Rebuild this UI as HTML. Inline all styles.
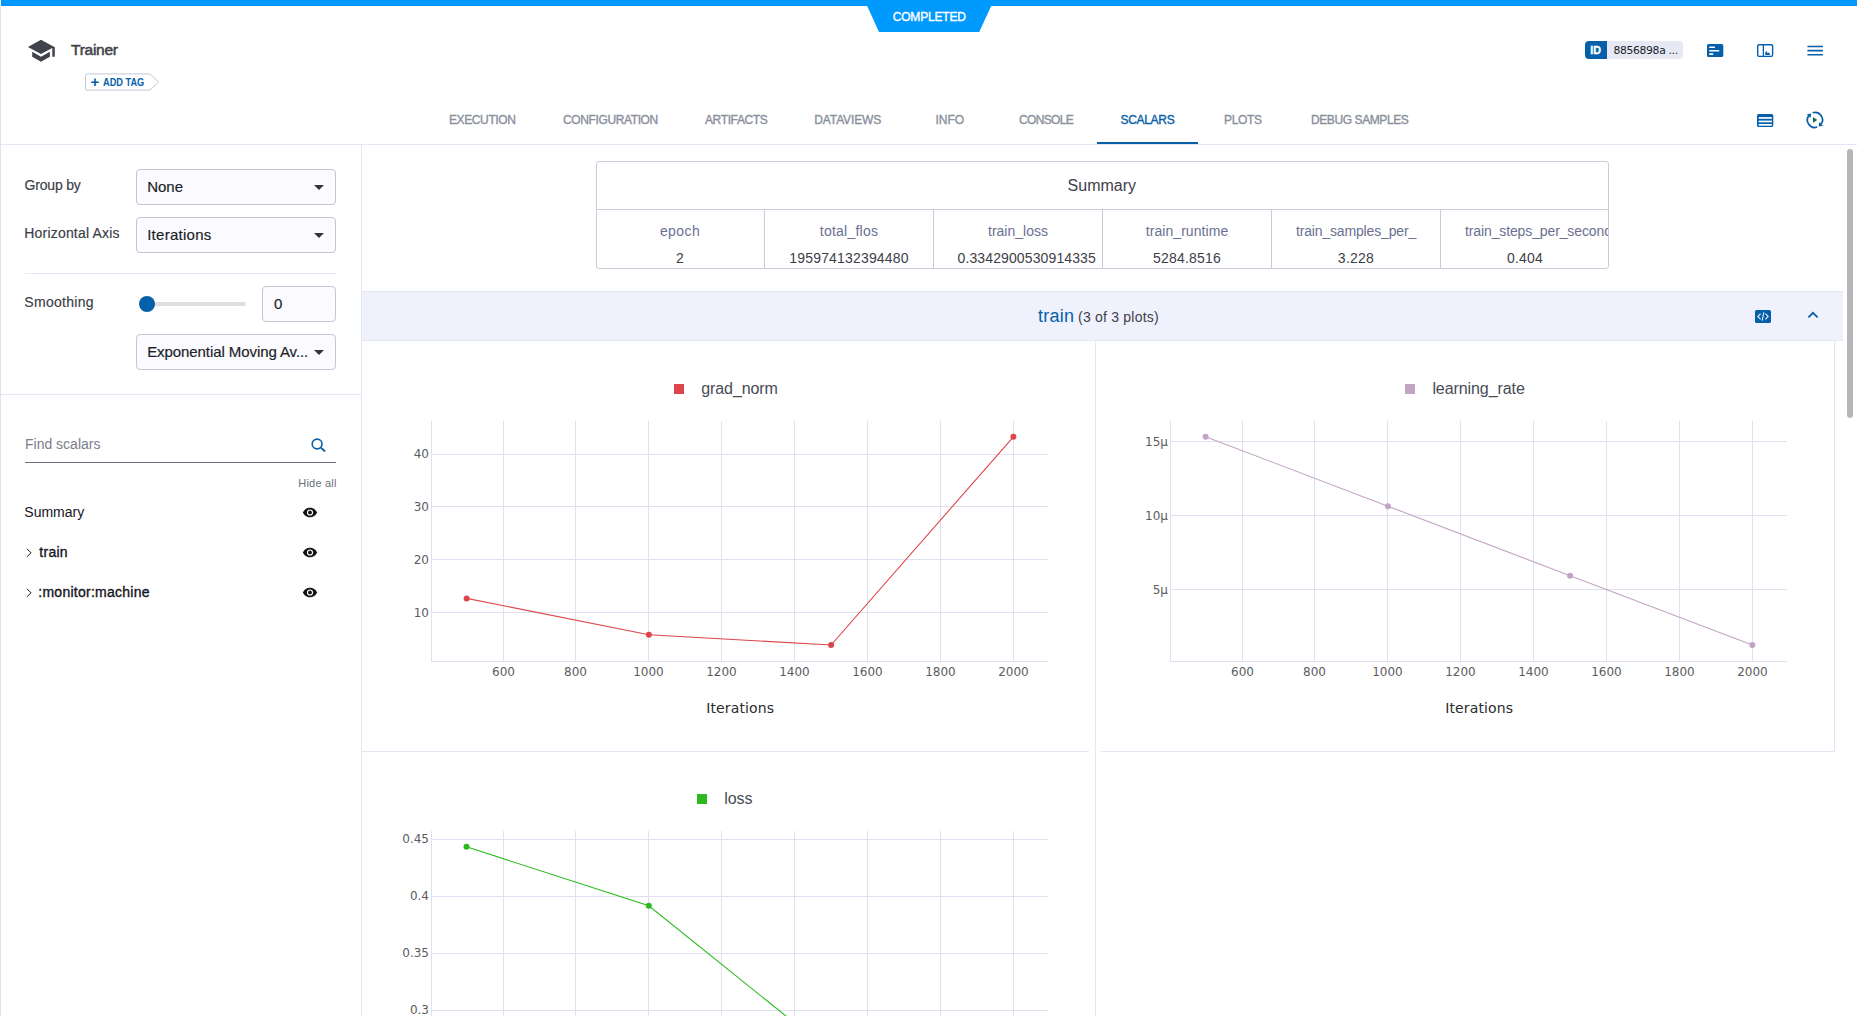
<!DOCTYPE html>
<html lang="en">
<head>
<meta charset="utf-8">
<title>Trainer - Scalars</title>
<style>
html,body{margin:0;padding:0;background:#fff;}
body{width:1857px;height:1016px;overflow:hidden;position:relative;font-family:"Liberation Sans",Arial,sans-serif;color:#1a1e2c;}
.a{position:absolute;}
.t{position:absolute;white-space:nowrap;line-height:20px;}
.m{-webkit-text-stroke:0.35px currentColor;}
.m2{-webkit-text-stroke:0.55px currentColor;}
.m1{-webkit-text-stroke:0.18px currentColor;}
.dj{font-family:"DejaVu Sans","Liberation Sans",sans-serif;}
.hl{position:absolute;height:1px;background:#e4e6f3;}
.vl{position:absolute;width:1px;background:#e4e6f3;}
.sel{position:absolute;box-sizing:border-box;border:1px solid #c3c7d3;border-radius:4px;background:#fafaff;}
.seltx{font-size:15px;color:#1c1e26;-webkit-text-stroke:0.18px currentColor;}
.caret{position:absolute;width:0;height:0;border-left:5px solid transparent;border-right:5px solid transparent;border-top:5px solid #34363f;}
.tab{font-size:12px;color:#8a8f9c;}
.sl{font-size:14px;color:#3e4049;-webkit-text-stroke:0.18px currentColor;}
.lbl{font-size:14px;color:#6b7091;}
.val{font-size:14px;color:#3e4049;}
.it{font-size:14px;color:#14161e;}
</style>
</head>
<body>

<!-- top status bar -->
<div class="a" style="left:1px;top:0;width:1856px;height:6px;background:#009aff;"></div>
<div class="a" style="left:1px;top:5px;width:1856px;height:1px;background:#0093fb;"></div>
<svg class="a" style="left:860px;top:0;" width="140" height="34" viewBox="0 0 140 34"><polygon points="6.75,5 131.65,5 119.2,32 19,32" fill="#009aff"/></svg>
<div class="t m" id="completed" style="left:892.7px;top:7px;font-size:12px;color:#fff;letter-spacing:-0.18px;">COMPLETED</div>

<!-- left window edge -->
<div class="vl" style="left:0;top:6px;height:1010px;background:#e0e2ee;"></div>

<!-- header -->
<svg class="a" style="left:27px;top:38px;" width="28" height="24" viewBox="0 0 28 24"><path d="M14 1.8 L0.9 9 L14 16 L25.3 10 V18.8 H27.8 V9.2 Z M5.2 13.8 V18.8 L14 23.7 L22.9 18.8 V13.8 L14 18.8 Z" fill="#41434b"/></svg>
<div class="t m2" id="title" style="left:71px;top:40px;font-size:15.5px;letter-spacing:-0.25px;color:#41434b;">Trainer</div>

<!-- add tag -->
<svg class="a" style="left:84px;top:72px;" width="78" height="20" viewBox="0 0 78 20"><path d="M3 1.9 H66 L74.6 10 L66 18.1 H3 Q1.5 18.1 1.5 16.6 V3.4 Q1.5 1.9 3 1.9 Z" fill="#fff" stroke="#c4c7d6" stroke-width="1"/></svg>
<div class="t" id="addplus" style="left:90.4px;top:71.5px;font-size:15px;font-weight:bold;color:#0660a9;">+</div>
<div class="t" id="addtag" style="left:102.6px;top:72px;font-size:10.9px;font-weight:bold;color:#0660a9;transform:scaleX(0.846);transform-origin:0 0;">ADD TAG</div>

<!-- ID badge -->
<div class="a" style="left:1585px;top:41px;width:98px;height:18px;border-radius:4px;background:#e6e8f4;overflow:hidden;"><div class="a" style="left:0;top:0;width:22px;height:18px;background:#0660a9;"></div></div>
<div class="t m" id="idtxt" style="left:1590.2px;top:40.4px;font-size:10.7px;font-weight:bold;color:#fff;">ID</div>
<div class="t dj" id="idval" style="left:1613.5px;top:41px;font-size:10.8px;letter-spacing:-0.35px;color:#1a1e2c;">8856898a ...</div>

<!-- header icons -->
<svg class="a" style="left:1700px;top:36px;" width="130" height="100" viewBox="1700 36 130 100">
<g fill="#0660a9">
<rect x="1707" y="44" width="16.3" height="13.1" rx="1.6"/>
<rect x="1807.4" y="45.7" width="15.6" height="1.6" rx="0.5"/><rect x="1807.4" y="49.8" width="15.6" height="1.6" rx="0.5"/><rect x="1807.4" y="53.9" width="15.6" height="1.6" rx="0.5"/>
<rect x="1757" y="114" width="16.3" height="13.1" rx="1.6"/>
</g>
<g fill="#fff">
<rect x="1709.1" y="46.4" width="5.9" height="1.6" rx="0.6"/><rect x="1709.1" y="49.9" width="10.2" height="1.6" rx="0.6"/><rect x="1709.1" y="53.3" width="4.2" height="1.6" rx="0.6"/>
<rect x="1758.7" y="117.1" width="13.2" height="1.7"/><rect x="1758.7" y="120.6" width="13.2" height="1.7"/><rect x="1758.7" y="124" width="13.2" height="1.7"/>
</g>
<rect x="1757.7" y="44.7" width="14.9" height="11.7" rx="1.3" fill="#fff" stroke="#0660a9" stroke-width="1.4"/>
<rect x="1762.7" y="45" width="1.3" height="11" fill="#0660a9"/>
<path d="M1765.2 55 V52.6 L1766.4 50.9 L1767.6 53.2 L1768.8 52.3 L1770.4 55 Z" fill="#0660a9"/>
<g fill="none" stroke="#0660a9" stroke-width="1.7">
<path d="M1809 115.4 A7.4 7.4 0 0 0 1817.2 127"/>
<path d="M1812.6 112.8 A7.4 7.4 0 0 1 1821 124.2"/>
</g>
<path d="M1806.9 114.2 L1811.2 113.4 L1810.6 118 Z" fill="#0660a9"/>
<path d="M1823 125.8 L1818.7 126.6 L1819.3 122 Z" fill="#0660a9"/>
<path d="M1813 117 L1817.3 119.9 L1813 122.8 Z" fill="#0a6b50"/>
</svg>

<!-- tabs -->
<div class="t m tab" id="tab1" style="left:449px;top:110px;letter-spacing:-0.39px;">EXECUTION</div>
<div class="t m tab" id="tab2" style="left:563px;top:110px;letter-spacing:-0.38px;">CONFIGURATION</div>
<div class="t m tab" id="tab3" style="left:705px;top:110px;letter-spacing:-0.38px;">ARTIFACTS</div>
<div class="t m tab" id="tab4" style="left:814.3px;top:110px;letter-spacing:-0.13px;">DATAVIEWS</div>
<div class="t m tab" id="tab5" style="left:935.5px;top:110px;">INFO</div>
<div class="t m tab" id="tab6" style="left:1019px;top:110px;letter-spacing:-0.67px;">CONSOLE</div>
<div class="t m tab" id="tab7" style="left:1120.6px;top:110px;color:#0660a9;letter-spacing:-0.33px;">SCALARS</div>
<div class="t m tab" id="tab8" style="left:1224px;top:110px;letter-spacing:-0.32px;">PLOTS</div>
<div class="t m tab" id="tab9" style="left:1311px;top:110px;letter-spacing:-0.41px;">DEBUG SAMPLES</div>
<div class="a" style="left:1097px;top:142px;width:101px;height:2px;background:#0660a9;"></div>
<div class="hl" style="left:1px;top:144px;width:1856px;"></div>

<!-- sidebar -->
<div class="vl" style="left:361px;top:145px;height:871px;"></div>
<div class="t sl" id="groupby" style="left:24.6px;top:175px;letter-spacing:-0.21px;">Group by</div>
<div class="sel" style="left:136px;top:169px;width:200px;height:36px;"></div>
<div class="t seltx" id="none" style="left:147.2px;top:177px;">None</div>
<div class="caret" style="left:314px;top:185px;"></div>
<div class="t sl" id="haxis" style="left:24.3px;top:223px;letter-spacing:0.19px;">Horizontal Axis</div>
<div class="sel" style="left:136px;top:217px;width:200px;height:36px;"></div>
<div class="t seltx" id="iters" style="left:147.2px;top:225px;letter-spacing:0.27px;">Iterations</div>
<div class="caret" style="left:314px;top:233px;"></div>
<div class="hl" style="left:25px;top:273px;width:311px;"></div>
<div class="t sl" id="smooth" style="left:24.3px;top:292px;letter-spacing:0.3px;">Smoothing</div>
<div class="a" style="left:146px;top:302px;width:100px;height:4px;border-radius:2px;background:#dedfe2;"></div>
<div class="a" style="left:139px;top:296px;width:16px;height:16px;border-radius:8px;background:#0660a9;"></div>
<div class="sel" style="left:262px;top:286px;width:74px;height:36px;"></div>
<div class="t seltx" id="zero" style="left:274px;top:294px;">0</div>
<div class="sel" style="left:136px;top:334px;width:200px;height:36px;"></div>
<div class="t seltx" id="ema" style="left:147.2px;top:342px;letter-spacing:-0.08px;">Exponential Moving Av...</div>
<div class="caret" style="left:314px;top:350px;"></div>
<div class="hl" style="left:1px;top:394px;width:360px;"></div>

<div class="t" id="find" style="left:25px;top:434px;font-size:14px;color:#7a7e8a;">Find scalars</div>
<svg class="a" style="left:310px;top:436px;" width="16" height="16" viewBox="0 0 16 16"><circle cx="7.1" cy="8" r="4.9" fill="none" stroke="#0660a9" stroke-width="1.6"/><path d="M10.8 11.6 L14.6 15" stroke="#0660a9" stroke-width="1.8" stroke-linecap="round"/></svg>
<div class="hl" style="left:25px;top:462px;width:311px;background:#6c707c;"></div>
<div class="t" id="hideall" style="left:298.3px;top:473px;font-size:11px;color:#6c707c;letter-spacing:0.21px;">Hide all</div>
<div class="t it" id="summ" style="left:24.3px;top:502px;">Summary</div>
<svg class="a" style="left:25px;top:547px;" width="8" height="12" viewBox="0 0 8 12"><path d="M2 1.8 L6 5.8 L2 9.8" fill="none" stroke="#14161e" stroke-width="1"/></svg>
<div class="t it m" id="train" style="left:39.3px;top:542px;letter-spacing:0.27px;">train</div>
<svg class="a" style="left:25px;top:587px;" width="8" height="12" viewBox="0 0 8 12"><path d="M2 1.8 L6 5.8 L2 9.8" fill="none" stroke="#14161e" stroke-width="1"/></svg>
<div class="t it m" id="monitor" style="left:38.3px;top:582px;letter-spacing:0.26px;">:monitor:machine</div>
<svg class="a" style="left:302px;top:507px;" width="16" height="11" viewBox="0 0 16 11"><path d="M0.8 5.5 C3 1.6 5.6 0.8 8 0.8 C10.4 0.8 13 1.6 15.2 5.5 C13 9.4 10.4 10.2 8 10.2 C5.6 10.2 3 9.4 0.8 5.5 Z" fill="#111"/><circle cx="8" cy="5.5" r="3.1" fill="#fff"/><circle cx="8" cy="5.5" r="1.9" fill="#111"/></svg>
<svg class="a" style="left:302px;top:547px;" width="16" height="11" viewBox="0 0 16 11"><path d="M0.8 5.5 C3 1.6 5.6 0.8 8 0.8 C10.4 0.8 13 1.6 15.2 5.5 C13 9.4 10.4 10.2 8 10.2 C5.6 10.2 3 9.4 0.8 5.5 Z" fill="#111"/><circle cx="8" cy="5.5" r="3.1" fill="#fff"/><circle cx="8" cy="5.5" r="1.9" fill="#111"/></svg>
<svg class="a" style="left:302px;top:587px;" width="16" height="11" viewBox="0 0 16 11"><path d="M0.8 5.5 C3 1.6 5.6 0.8 8 0.8 C10.4 0.8 13 1.6 15.2 5.5 C13 9.4 10.4 10.2 8 10.2 C5.6 10.2 3 9.4 0.8 5.5 Z" fill="#111"/><circle cx="8" cy="5.5" r="3.1" fill="#fff"/><circle cx="8" cy="5.5" r="1.9" fill="#111"/></svg>

<!-- summary table -->
<div class="a" style="left:596px;top:161px;width:1013px;height:108px;box-sizing:border-box;border:1px solid #c9ccd9;border-radius:3px;"></div>
<div class="hl" style="left:597px;top:209px;width:1011px;background:#c9ccd9;"></div>
<div class="t" id="sumtitle" style="left:1067.6px;top:176px;font-size:16px;color:#3e4049;">Summary</div>
<div class="a" id="sumcells" style="left:597px;top:210px;width:1011px;height:58px;overflow:hidden;">
<div class="t lbl" style="left:-1px;width:168px;text-align:center;top:11px;letter-spacing:0.42px;"><span id="l0">epoch</span></div>
<div class="t val" style="left:-1px;width:168px;text-align:center;top:38px;letter-spacing:0px;"><span id="v0">2</span></div>
<div class="vl" style="left:167px;top:0;height:58px;background:#c9ccd9;"></div>
<div class="t lbl" style="left:168px;width:168px;text-align:center;top:11px;letter-spacing:0.23px;"><span id="l1">total_flos</span></div>
<div class="t val" style="left:168px;width:168px;text-align:center;top:38px;letter-spacing:0.17px;"><span id="v1">195974132394480</span></div>
<div class="vl" style="left:336px;top:0;height:58px;background:#c9ccd9;"></div>
<div class="t lbl" style="left:337px;width:168px;text-align:center;top:11px;letter-spacing:0px;"><span id="l2">train_loss</span></div>
<div class="t val" style="left:360.5px;top:38px;letter-spacing:0.12px;"><span id="v2">0.3342900530914335</span></div>
<div class="vl" style="left:505px;top:0;height:58px;background:#c9ccd9;"></div>
<div class="t lbl" style="left:506px;width:168px;text-align:center;top:11px;letter-spacing:0.07px;"><span id="l3">train_runtime</span></div>
<div class="t val" style="left:506px;width:168px;text-align:center;top:38px;letter-spacing:0.19px;"><span id="v3">5284.8516</span></div>
<div class="vl" style="left:674px;top:0;height:58px;background:#c9ccd9;"></div>
<div class="t lbl" style="left:675px;width:168px;text-align:center;top:11px;letter-spacing:-0.16px;"><span id="l4">train_samples_per_</span></div>
<div class="t val" style="left:675px;width:168px;text-align:center;top:38px;letter-spacing:0.25px;"><span id="v4">3.228</span></div>
<div class="vl" style="left:843px;top:0;height:58px;background:#c9ccd9;"></div>
<div class="t lbl" style="left:868px;top:11px;letter-spacing:-0.12px;"><span id="l5">train_steps_per_second</span></div>
<div class="t val" style="left:844px;width:168px;text-align:center;top:38px;letter-spacing:0.22px;"><span id="v5">0.404</span></div>
</div>

<!-- train section header -->
<div class="a" style="left:362px;top:291px;width:1481px;height:50px;box-sizing:border-box;background:#eff2fc;border-top:1px solid #e4e6f3;border-bottom:1px solid #e4e6f3;"></div>
<div class="t" id="sectrain" style="left:1038px;top:306px;font-size:18px;color:#0660a9;letter-spacing:0.22px;">train</div>
<div class="t" id="secplots" style="left:1078px;top:307px;font-size:14px;color:#3e4049;letter-spacing:0.22px;">(3 of 3 plots)</div>
<svg class="a" style="left:1754px;top:309px;" width="18" height="15" viewBox="0 0 18 15"><rect x="1" y="1" width="16" height="13" rx="1.6" fill="#0660a9"/><path d="M6.6 4.6 L3.8 7.5 L6.6 10.4 M11.4 4.6 L14.2 7.5 L11.4 10.4 M9.8 3.4 L8.2 11.6" fill="none" stroke="#e8eefa" stroke-width="1.1"/></svg>
<svg class="a" style="left:1806px;top:309px;" width="14" height="12" viewBox="0 0 14 12"><path d="M2.4 8.4 L7 3.8 L11.6 8.4" fill="none" stroke="#0660a9" stroke-width="1.8"/></svg>

<!-- scrollbar -->
<div class="a" style="left:1847px;top:149px;width:6px;height:269px;border-radius:3px;background:#b6b6bb;"></div>

<!-- chart cell borders -->
<div class="vl" style="left:1095px;top:341px;height:675px;"></div>
<div class="vl" style="left:1834px;top:341px;height:410px;"></div>
<div class="hl" style="left:362px;top:751px;width:727px;"></div>
<div class="hl" style="left:1101px;top:751px;width:734px;"></div>

<svg class="a" id="charts" style="left:0;top:0;" width="1857" height="1016" viewBox="0 0 1857 1016" shape-rendering="crispEdges">
<style>.tk{font-family:"DejaVu Sans","Liberation Sans",sans-serif;font-size:12px;fill:#5c5c5e;}.ax{font-family:"DejaVu Sans","Liberation Sans",sans-serif;font-size:14px;letter-spacing:0.13px;fill:#2a2a2c;}.lg{font-family:"Liberation Sans",sans-serif;font-size:16px;fill:#484b54;}</style>
<line x1="503.5" y1="421" x2="503.5" y2="661" stroke="#dfe1f0" stroke-width="1"/>
<line x1="575.5" y1="421" x2="575.5" y2="661" stroke="#dfe1f0" stroke-width="1"/>
<line x1="648.5" y1="421" x2="648.5" y2="661" stroke="#dfe1f0" stroke-width="1"/>
<line x1="721.5" y1="421" x2="721.5" y2="661" stroke="#dfe1f0" stroke-width="1"/>
<line x1="794.5" y1="421" x2="794.5" y2="661" stroke="#dfe1f0" stroke-width="1"/>
<line x1="867.5" y1="421" x2="867.5" y2="661" stroke="#dfe1f0" stroke-width="1"/>
<line x1="940.5" y1="421" x2="940.5" y2="661" stroke="#dfe1f0" stroke-width="1"/>
<line x1="1013.5" y1="421" x2="1013.5" y2="661" stroke="#dfe1f0" stroke-width="1"/>
<line x1="431" y1="454.5" x2="1048" y2="454.5" stroke="#dfe1f0" stroke-width="1"/>
<line x1="431" y1="506.5" x2="1048" y2="506.5" stroke="#dfe1f0" stroke-width="1"/>
<line x1="431" y1="559.5" x2="1048" y2="559.5" stroke="#dfe1f0" stroke-width="1"/>
<line x1="431" y1="612.5" x2="1048" y2="612.5" stroke="#dfe1f0" stroke-width="1"/>
<line x1="431.5" y1="421" x2="431.5" y2="662" stroke="#dfe1f0" stroke-width="1"/>
<line x1="431" y1="661.5" x2="1048" y2="661.5" stroke="#dfe1f0" stroke-width="1"/>
<path d="M466.6,598.4 L648.9,634.7 L831.1,645.0 L1013.4,436.8" fill="none" stroke="#dd464a" stroke-width="1.1" shape-rendering="geometricPrecision"/>
<circle cx="466.6" cy="598.4" r="3" fill="#dd464a" shape-rendering="geometricPrecision"/>
<circle cx="648.9" cy="634.7" r="3" fill="#dd464a" shape-rendering="geometricPrecision"/>
<circle cx="831.1" cy="645.0" r="3" fill="#dd464a" shape-rendering="geometricPrecision"/>
<circle cx="1013.4" cy="436.8" r="3" fill="#dd464a" shape-rendering="geometricPrecision"/>
<text x="429" y="458.2" text-anchor="end" class="tk">40</text>
<text x="429" y="511.1" text-anchor="end" class="tk">30</text>
<text x="429" y="564.0" text-anchor="end" class="tk">20</text>
<text x="429" y="616.9" text-anchor="end" class="tk">10</text>
<text x="503.5" y="676.2" text-anchor="middle" class="tk">600</text>
<text x="575.5" y="676.2" text-anchor="middle" class="tk">800</text>
<text x="648.5" y="676.2" text-anchor="middle" class="tk">1000</text>
<text x="721.5" y="676.2" text-anchor="middle" class="tk">1200</text>
<text x="794.5" y="676.2" text-anchor="middle" class="tk">1400</text>
<text x="867.5" y="676.2" text-anchor="middle" class="tk">1600</text>
<text x="940.5" y="676.2" text-anchor="middle" class="tk">1800</text>
<text x="1013.5" y="676.2" text-anchor="middle" class="tk">2000</text>
<text x="740.2" y="712.9" text-anchor="middle" class="ax">Iterations</text>
<rect x="674" y="384" width="10" height="10" fill="#dd464a"/>
<text x="701.3" y="393.8" class="lg" style="letter-spacing:-0.1px">grad_norm</text>
<line x1="1242.5" y1="421" x2="1242.5" y2="661" stroke="#dfe1f0" stroke-width="1"/>
<line x1="1314.5" y1="421" x2="1314.5" y2="661" stroke="#dfe1f0" stroke-width="1"/>
<line x1="1387.5" y1="421" x2="1387.5" y2="661" stroke="#dfe1f0" stroke-width="1"/>
<line x1="1460.5" y1="421" x2="1460.5" y2="661" stroke="#dfe1f0" stroke-width="1"/>
<line x1="1533.5" y1="421" x2="1533.5" y2="661" stroke="#dfe1f0" stroke-width="1"/>
<line x1="1606.5" y1="421" x2="1606.5" y2="661" stroke="#dfe1f0" stroke-width="1"/>
<line x1="1679.5" y1="421" x2="1679.5" y2="661" stroke="#dfe1f0" stroke-width="1"/>
<line x1="1752.5" y1="421" x2="1752.5" y2="661" stroke="#dfe1f0" stroke-width="1"/>
<line x1="1170" y1="441.5" x2="1787" y2="441.5" stroke="#dfe1f0" stroke-width="1"/>
<line x1="1170" y1="515.5" x2="1787" y2="515.5" stroke="#dfe1f0" stroke-width="1"/>
<line x1="1170" y1="589.5" x2="1787" y2="589.5" stroke="#dfe1f0" stroke-width="1"/>
<line x1="1170.5" y1="421" x2="1170.5" y2="662" stroke="#dfe1f0" stroke-width="1"/>
<line x1="1170" y1="661.5" x2="1787" y2="661.5" stroke="#dfe1f0" stroke-width="1"/>
<path d="M1205.6,436.7 L1387.9,506.2 L1570.1,575.7 L1752.4,645.1" fill="none" stroke="#c2a4c3" stroke-width="1.1" shape-rendering="geometricPrecision"/>
<circle cx="1205.6" cy="436.7" r="3" fill="#c2a4c3" shape-rendering="geometricPrecision"/>
<circle cx="1387.9" cy="506.2" r="3" fill="#c2a4c3" shape-rendering="geometricPrecision"/>
<circle cx="1570.1" cy="575.7" r="3" fill="#c2a4c3" shape-rendering="geometricPrecision"/>
<circle cx="1752.4" cy="645.1" r="3" fill="#c2a4c3" shape-rendering="geometricPrecision"/>
<text x="1168" y="445.8" text-anchor="end" class="tk">15μ</text>
<text x="1168" y="519.9" text-anchor="end" class="tk">10μ</text>
<text x="1168" y="594.0" text-anchor="end" class="tk">5μ</text>
<text x="1242.5" y="676.2" text-anchor="middle" class="tk">600</text>
<text x="1314.5" y="676.2" text-anchor="middle" class="tk">800</text>
<text x="1387.5" y="676.2" text-anchor="middle" class="tk">1000</text>
<text x="1460.5" y="676.2" text-anchor="middle" class="tk">1200</text>
<text x="1533.5" y="676.2" text-anchor="middle" class="tk">1400</text>
<text x="1606.5" y="676.2" text-anchor="middle" class="tk">1600</text>
<text x="1679.5" y="676.2" text-anchor="middle" class="tk">1800</text>
<text x="1752.5" y="676.2" text-anchor="middle" class="tk">2000</text>
<text x="1479.2" y="712.9" text-anchor="middle" class="ax">Iterations</text>
<rect x="1405" y="384" width="10" height="10" fill="#c2a4c3"/>
<text x="1432.4" y="393.8" class="lg" style="letter-spacing:-0.08px">learning_rate</text>
<line x1="503.5" y1="831" x2="503.5" y2="1016" stroke="#dfe1f0" stroke-width="1"/>
<line x1="575.5" y1="831" x2="575.5" y2="1016" stroke="#dfe1f0" stroke-width="1"/>
<line x1="648.5" y1="831" x2="648.5" y2="1016" stroke="#dfe1f0" stroke-width="1"/>
<line x1="721.5" y1="831" x2="721.5" y2="1016" stroke="#dfe1f0" stroke-width="1"/>
<line x1="794.5" y1="831" x2="794.5" y2="1016" stroke="#dfe1f0" stroke-width="1"/>
<line x1="867.5" y1="831" x2="867.5" y2="1016" stroke="#dfe1f0" stroke-width="1"/>
<line x1="940.5" y1="831" x2="940.5" y2="1016" stroke="#dfe1f0" stroke-width="1"/>
<line x1="1013.5" y1="831" x2="1013.5" y2="1016" stroke="#dfe1f0" stroke-width="1"/>
<line x1="431" y1="839.5" x2="1048" y2="839.5" stroke="#dfe1f0" stroke-width="1"/>
<line x1="431" y1="896.5" x2="1048" y2="896.5" stroke="#dfe1f0" stroke-width="1"/>
<line x1="431" y1="953.5" x2="1048" y2="953.5" stroke="#dfe1f0" stroke-width="1"/>
<line x1="431" y1="1010.5" x2="1048" y2="1010.5" stroke="#dfe1f0" stroke-width="1"/>
<line x1="431.5" y1="831" x2="431.5" y2="1017" stroke="#dfe1f0" stroke-width="1"/>
<path d="M466.5,846.8 L648.8,905.8 L831.1,1052.3" fill="none" stroke="#2cba1e" stroke-width="1.1" shape-rendering="geometricPrecision"/>
<circle cx="466.5" cy="846.8" r="3" fill="#2cba1e" shape-rendering="geometricPrecision"/>
<circle cx="648.8" cy="905.8" r="3" fill="#2cba1e" shape-rendering="geometricPrecision"/>
<text x="429" y="842.9" text-anchor="end" class="tk">0.45</text>
<text x="429" y="899.9" text-anchor="end" class="tk">0.4</text>
<text x="429" y="956.9" text-anchor="end" class="tk">0.35</text>
<text x="429" y="1013.9" text-anchor="end" class="tk">0.3</text>
<rect x="697" y="794" width="10" height="10" fill="#2cba1e"/>
<text x="724.3" y="803.8" class="lg" style="letter-spacing:-0.1px">loss</text>
</svg>

</body>
</html>
